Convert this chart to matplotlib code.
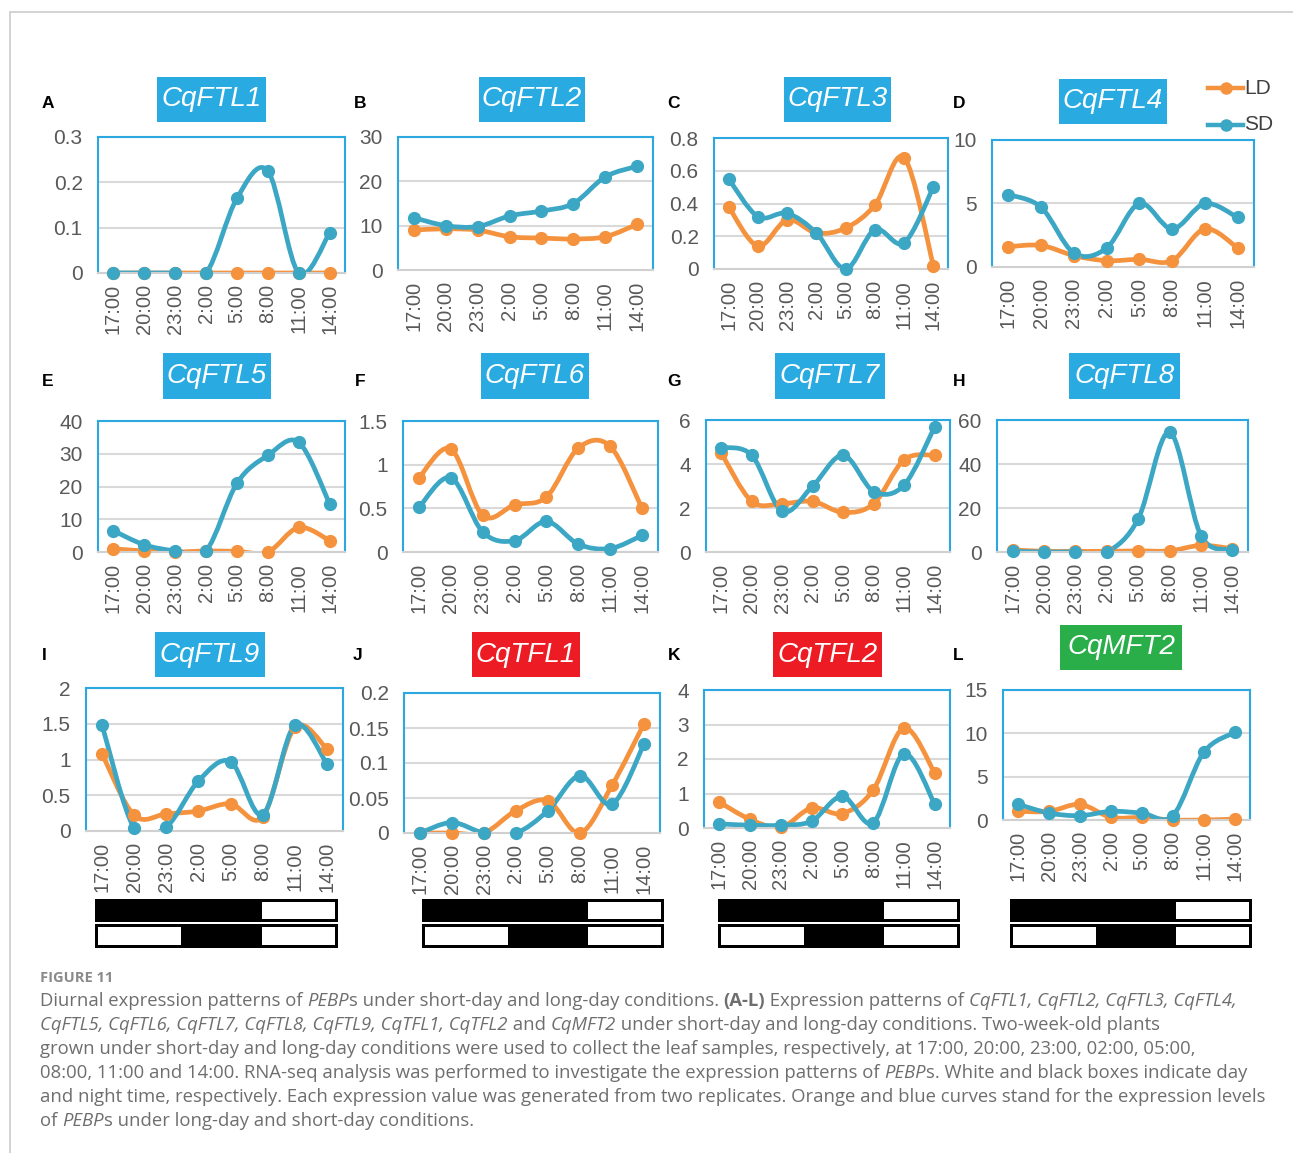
import numpy as np
import matplotlib
matplotlib.use("Agg")
import matplotlib.pyplot as plt
from matplotlib.path import Path
from matplotlib.patches import PathPatch, Rectangle
from matplotlib.lines import Line2D

W, H = 1293, 1153

times = ["17:00", "20:00", "23:00", "2:00", "5:00", "8:00", "11:00", "14:00"]

genes = ["CqFTL1", "CqFTL2", "CqFTL3", "CqFTL4", "CqFTL5", "CqFTL6",
         "CqFTL7", "CqFTL8", "CqFTL9", "CqTFL1", "CqTFL2", "CqMFT2"]
letters = list("ABCDEFGHIJKL")

ftl1_ld = [0, 0, 0, 0, 0, 0, 0, 0]
ftl1_sd = [0, 0, 0, 0, 0.165, 0.225, 0, 0.088]
ftl2_ld = [9.0, 9.3, 9.0, 7.5, 7.2, 7.0, 7.5, 10.3]
ftl2_sd = [11.8, 10.0, 9.8, 12.2, 13.3, 15.0, 21.0, 23.4]
ftl3_ld = [0.38, 0.14, 0.30, 0.22, 0.25, 0.39, 0.68, 0.02]
ftl3_sd = [0.55, 0.32, 0.34, 0.22, 0.0, 0.24, 0.16, 0.50]
ftl4_ld = [1.6, 1.7, 0.9, 0.5, 0.6, 0.5, 3.0, 1.5]
ftl4_sd = [5.7, 4.7, 1.1, 1.5, 5.0, 3.0, 5.0, 3.9]
ftl5_ld = [1.0, 0.3, 0.0, 0.3, 0.2, 0.0, 7.5, 3.5]
ftl5_sd = [6.5, 2.2, 0.4, 0.4, 21.0, 29.5, 33.5, 14.8]
ftl6_ld = [0.85, 1.18, 0.42, 0.54, 0.63, 1.19, 1.21, 0.50]
ftl6_sd = [0.51, 0.85, 0.23, 0.13, 0.35, 0.09, 0.04, 0.19]
ftl7_ld = [4.5, 2.3, 2.2, 2.3, 1.8, 2.2, 4.2, 4.4]
ftl7_sd = [4.75, 4.4, 1.85, 3.0, 4.4, 2.75, 3.05, 5.7]
ftl8_ld = [1.0, 0.3, 0.3, 0.3, 0.5, 0.5, 3.0, 1.5]
ftl8_sd = [0.3, 0.0, 0.0, 0.0, 15.0, 54.5, 7.5, 1.0]
ftl9_ld = [1.08, 0.22, 0.24, 0.28, 0.38, 0.20, 1.45, 1.15]
ftl9_sd = [1.48, 0.04, 0.06, 0.70, 0.97, 0.23, 1.48, 0.94]
tfl1_ld = [0, 0, 0, 0.032, 0.046, 0, 0.068, 0.156]
tfl1_sd = [0, 0.015, 0, 0, 0.032, 0.082, 0.041, 0.127]
tfl2_ld = [0.75, 0.25, 0.02, 0.58, 0.42, 1.1, 2.9, 1.6]
tfl2_sd = [0.12, 0.08, 0.08, 0.20, 0.92, 0.15, 2.15, 0.70]
mft2_ld = [1.0, 1.0, 1.8, 0.3, 0.3, 0.0, 0.0, 0.1]
mft2_sd = [1.8, 0.8, 0.5, 1.0, 0.8, 0.5, 7.8, 10.1]

ld_series = [ftl1_ld, ftl2_ld, ftl3_ld, ftl4_ld, ftl5_ld, ftl6_ld,
             ftl7_ld, ftl8_ld, ftl9_ld, tfl1_ld, tfl2_ld, mft2_ld]
sd_series = [ftl1_sd, ftl2_sd, ftl3_sd, ftl4_sd, ftl5_sd, ftl6_sd,
             ftl7_sd, ftl8_sd, ftl9_sd, tfl1_sd, tfl2_sd, mft2_sd]
y_max = [0.3, 30, 0.8, 10, 40, 1.5, 6, 60, 2, 0.2, 4, 15]
y_step = [0.1, 10, 0.2, 5, 10, 0.5, 2, 20, 0.5, 0.05, 1, 5]

# day/night bars: hours from 15:30, white = light period
sd_light = [(16.5, 24)]
ld_light = [(0, 8.5), (16.5, 24)]

# layout in pixels
plot_boxes = [(98, 137, 345, 273), (398, 137, 653, 270), (714, 138, 948, 269), (992, 140, 1254, 267),
              (98, 421, 345, 552), (403, 421, 658, 552), (706, 420, 950, 552), (997, 420, 1248, 552),
              (86, 688, 343, 831), (404, 693, 660, 833), (704, 690, 950, 828), (1003, 690, 1250, 820)]
title_boxes = [(157, 77, 266, 122), (479, 77, 585, 122), (784, 77, 891, 122), (1059, 79, 1167, 124),
               (163, 353, 271, 399), (481, 353, 589, 399), (775, 353, 885, 399), (1069, 353, 1180, 399),
               (155, 632, 265, 677), (472, 632, 580, 677), (773, 632, 882, 677), (1060, 625, 1182, 670)]
title_colors = ["#29ABE2"] * 9 + ["#ED1C24", "#ED1C24", "#2AAE4A"]
letter_pos = [(48, 104), (360, 104), (674, 104), (959, 104),
              (48, 382), (360, 382), (674, 382), (959, 382),
              (44, 655), (358, 655), (674, 655), (958, 655)]
bar_spans = [(95, 338), (422, 664), (718, 960), (1010, 1252)]

LD_COLOR = "#F5923E"
SD_COLOR = "#3CA7C5"
FRAME = "#2BA8E0"
TICK = "#595959"

plt.rcParams["font.family"] = ["Liberation Sans", "DejaVu Sans"]


def frac(x0, y0, x1, y1):
    return [x0 / W, 1 - y1 / H, (x1 - x0) / W, (y1 - y0) / H]


def smooth_path(x, y):
    pts = np.column_stack([x, y]).astype(float)
    n = len(pts)
    verts = [pts[0]]
    codes = [Path.MOVETO]
    for i in range(n - 1):
        p0 = pts[i - 1] if i > 0 else pts[i]
        p1, p2 = pts[i], pts[i + 1]
        p3 = pts[i + 2] if i + 2 < n else pts[i + 1]
        verts += [p1 + (p2 - p0) / 6, p2 - (p3 - p1) / 6, p2]
        codes += [Path.CURVE4] * 3
    return Path(verts, codes)


fig = plt.figure(figsize=(W / 100, H / 100), dpi=100)

# outer grey frame
fig.add_artist(Rectangle((10 / W, -0.1), 1.2, 1 - 12 / H + 0.1, transform=fig.transFigure,
                         fill=False, edgecolor="#CCCCCC", lw=1.2))

xs = np.arange(len(times))
for k in range(12):
    ax = fig.add_axes(frac(*plot_boxes[k]))
    ax.set_xlim(-0.5, len(times) - 0.5)
    ax.set_ylim(0, y_max[k])
    ticks = np.arange(0, y_max[k] + y_step[k] / 2, y_step[k])
    ax.set_yticks(ticks)
    ax.set_yticklabels([f"{round(t, 3):g}" for t in ticks])
    ax.set_xticks(xs)
    ax.set_xticklabels(times, rotation=90)
    ax.tick_params(length=0, labelcolor=TICK)
    ax.tick_params(axis="y", pad=11, labelsize=15)
    ax.tick_params(axis="x", pad=8, labelsize=14.5)
    ax.grid(axis="y", color="#D9D9D9", lw=1.5)
    ax.set_axisbelow(True)
    for side in ["top", "left", "right"]:
        ax.spines[side].set_color(FRAME)
        ax.spines[side].set_linewidth(1.5)
    ax.spines["bottom"].set_color("#D0D0D0")
    ax.spines["bottom"].set_linewidth(1.5)

    for vals, col in [(ld_series[k], LD_COLOR), (sd_series[k], SD_COLOR)]:
        ax.add_patch(PathPatch(smooth_path(xs, vals), fill=False, edgecolor=col,
                               lw=3.4, capstyle="round", joinstyle="round"))
        ax.plot(xs, vals, "o", color=col, ms=8.5, clip_on=False, zorder=3)

    tx0, ty0, tx1, ty1 = title_boxes[k]
    fig.add_artist(Rectangle((tx0 / W, 1 - ty1 / H), (tx1 - tx0) / W, (ty1 - ty0) / H,
                             transform=fig.transFigure, color=title_colors[k], lw=0))
    fig.text((tx0 + tx1) / 2 / W, 1 - (ty0 + ty1) / 2 / H, genes[k], color="white",
             fontsize=20, style="italic", ha="center", va="center")
    lx, ly = letter_pos[k]
    fig.text(lx / W, 1 - ly / H, letters[k], fontsize=12.5, fontweight="bold",
             ha="center", va="center")

# light/dark bars under the bottom row
for bx0, bx1 in bar_spans:
    for (y0, y1), light in [((899, 922), sd_light), ((924, 948), ld_light)]:
        bax = fig.add_axes(frac(bx0, y0, bx1, y1))
        bax.set_xlim(0, 24)
        bax.set_ylim(0, 1)
        bax.axis("off")
        bax.add_patch(Rectangle((0, 0), 24, 1, color="black", lw=0))
        for a, b in light:
            a2 = a + 0.3 if a == 0 else a
            b2 = b - 0.3 if b == 24 else b
            bax.add_patch(Rectangle((a2, 0.14), b2 - a2, 0.72, color="white", lw=0))

# legend
for ly, lab, col in [(88, "LD", LD_COLOR), (125, "SD", SD_COLOR)]:
    fig.add_artist(Line2D([1208 / W, 1243 / W], [1 - ly / H] * 2, color=col, lw=3.2,
                          transform=fig.transFigure))
    fig.add_artist(Line2D([1226 / W], [1 - ly / H], color=col, marker="o", ms=8,
                          transform=fig.transFigure))
    fig.text(1244 / W, 1 - ly / H, lab, fontsize=15, color="#404040", va="center")

# caption
cap_font = ["Open Sans", "DejaVu Sans"]
fig.text(40 / W, 1 - 978 / H, "FIGURE 11", fontsize=10.5, fontweight="bold",
         color="#8A8A8A", family=cap_font, va="center")

cap_lines = [
    [("Diurnal expression patterns of ", "n"), ("PEBP", "i"),
     ("s under short-day and long-day conditions. ", "n"), ("(A-L)", "b"),
     (" Expression patterns of ", "n"), ("CqFTL1, CqFTL2, CqFTL3, CqFTL4,", "i")],
    [("CqFTL5, CqFTL6, CqFTL7, CqFTL8, CqFTL9, CqTFL1, CqTFL2", "i"), (" and ", "n"),
     ("CqMFT2", "i"), (" under short-day and long-day conditions. Two-week-old plants", "n")],
    [("grown under short-day and long-day conditions were used to collect the leaf samples, "
      "respectively, at 17:00, 20:00, 23:00, 02:00, 05:00,", "n")],
    [("08:00, 11:00 and 14:00. RNA-seq analysis was performed to investigate the expression "
      "patterns of ", "n"), ("PEBP", "i"), ("s. White and black boxes indicate day", "n")],
    [("and night time, respectively. Each expression value was generated from two replicates. "
      "Orange and blue curves stand for the expression levels", "n")],
    [("of ", "n"), ("PEBP", "i"), ("s under long-day and short-day conditions.", "n")],
]
renderer = fig.canvas.get_renderer()
for i, segs in enumerate(cap_lines):
    x = 40.0
    y = 1 - (1006 + 24 * i) / H
    for txt, st in segs:
        t = fig.text(x / W, y, txt, fontsize=13.3, color="#6E6E6E", family=cap_font,
                     style="italic" if st == "i" else "normal",
                     fontweight="bold" if st == "b" else "normal", va="baseline")
        x += t.get_window_extent(renderer).width

fig.savefig("out.png", dpi=100)
